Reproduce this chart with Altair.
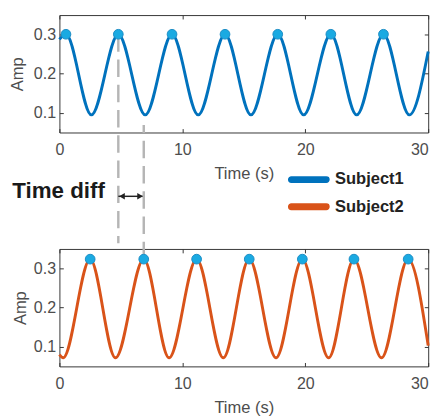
import altair as alt
import pandas as pd

FONT = "Liberation Sans"
subjects = ["Subject1", "Subject2"]
colors = ["#0072BD", "#D95319"]

# Subject1 (top panel): turning points
s1_t = [0.0, 0.53, 2.6, 4.79, 6.98, 9.16, 11.29, 13.47, 15.58, 17.76, 19.87, 22.08, 24.18, 26.36, 28.47, 30.0]
s1_amp = [0.288, 0.301, 0.095, 0.301, 0.095, 0.301, 0.095, 0.301, 0.095, 0.301, 0.095, 0.301, 0.095, 0.301, 0.095, 0.257]
s1_peak_t = [0.53, 4.79, 9.16, 13.47, 17.76, 22.08, 26.36]
s1_peak_amp = [0.301, 0.301, 0.301, 0.301, 0.301, 0.301, 0.301]

# Subject2 (bottom panel)
s2_t = [0.0, 0.3, 2.5, 4.56, 6.86, 8.92, 11.16, 13.33, 15.44, 17.62, 19.76, 21.9, 23.96, 26.2, 28.37, 30.0]
s2_amp = [0.080, 0.072, 0.324, 0.072, 0.324, 0.072, 0.324, 0.072, 0.324, 0.072, 0.324, 0.072, 0.324, 0.072, 0.324, 0.103]
s2_peak_t = [2.5, 6.86, 11.16, 15.44, 19.76, 23.96, 28.37]
s2_peak_amp = [0.324, 0.324, 0.324, 0.324, 0.324, 0.324, 0.324]

# annotation: dashed guides between the second peaks, arrow and label
guide1_end = [-0.233]   # in top-panel units (below the panel)
guide2_end = [0.667]    # in bottom-panel units (above the panel)
arrow_y = [-0.113]
arrow_head_gap = 0.3
label_t = [3.7]
label_y = [-0.099]
label_text = ["Time diff"]

x_ticks = [0, 10, 20, 30]
y_ticks = [0.1, 0.2, 0.3]
x_domain = [0, 30]
y_domain = [0.05, 0.35]
W, H = 380, 121

xs = alt.Scale(domain=x_domain, nice=False, zero=False)
ys = alt.Scale(domain=y_domain, nice=False, zero=False)

color = alt.Color(
    "subject:N",
    scale=alt.Scale(domain=subjects, range=colors),
    legend=alt.Legend(
        title=None, orient="none", legendX=235, legendY=161, padding=0,
        symbolType="M-0.9,-0.0875H0.9A0.0875,0.0875 0 0 1 0.9,0.0875H-0.9A0.0875,0.0875 0 0 1 -0.9,-0.0875Z",
        symbolSize=1600, symbolStrokeWidth=3.5, clipHeight=17, rowPadding=10,
        labelFontSize=17, labelFontWeight="bold", labelFont=FONT, labelColor="#222222",
        labelOffset=5,
    ),
)


def x_axis():
    return alt.Axis(values=x_ticks, format="d", title="Time (s)", domain=False, grid=False, labelFlush=False,
                    labelAlign={"expr": "datum.value >= 30 ? 'right' : 'center'"},
                    offset=-4, tickSize=4, tickColor="#333333", labelPadding=10, titlePadding=8)


def y_axis(title_pad):
    return alt.Axis(values=y_ticks, format=".1f", title="Amp", domain=False, grid=False,
                    offset=-4, tickSize=4, tickColor="#333333", labelPadding=4, titlePadding=title_pad)


def panel(t, amp, subj, peak_t, peak_amp, extra_layers, title_pad):
    df = pd.DataFrame({"t": t, "amp": amp, "subject": subj})
    pk = pd.DataFrame({"t": peak_t, "amp": peak_amp})
    line = alt.Chart(df).mark_line(interpolate="monotone", strokeWidth=3).encode(
        x=alt.X("t:Q", scale=xs, axis=x_axis()),
        y=alt.Y("amp:Q", scale=ys, axis=y_axis(title_pad)),
        color=color,
    )
    opp = alt.Chart(pk).mark_point(opacity=0).encode(
        x=alt.X("t:Q", scale=xs, axis=alt.Axis(orient="top", values=x_ticks, labels=False, domain=False,
                                                grid=False, offset=-4, tickSize=4, tickColor="#333333", title=None)),
        y=alt.Y("amp:Q", scale=ys, axis=alt.Axis(orient="right", values=y_ticks, labels=False, domain=False,
                                                  grid=False, offset=-4, tickSize=4, tickColor="#333333", title=None)),
    )
    dots = alt.Chart(pk).mark_circle(size=100, color="#1aaae2", stroke="#1c8cc4", strokeWidth=1, opacity=1).encode(
        x=alt.X("t:Q", scale=xs, axis=None),
        y=alt.Y("amp:Q", scale=ys, axis=None),
    )
    return alt.layer(line, opp, *extra_layers, dots).resolve_axis(x="independent", y="independent").properties(
        width=W, height=H)


guide_style = dict(color="#b5b5b5", strokeWidth=2.5, strokeDash=[18, 8])

g1 = pd.DataFrame({"t": [s1_peak_t[1]], "a": [s1_peak_amp[1]], "b": guide1_end})
guide1 = alt.Chart(g1).mark_rule(**guide_style).encode(
    x=alt.X("t:Q", scale=xs, axis=None), y=alt.Y("a:Q", scale=ys, axis=None), y2="b:Q")

arr = pd.DataFrame({"t1": [s1_peak_t[1]], "t2": [s2_peak_t[1]], "y": arrow_y})
arrow = alt.Chart(arr).mark_rule(color="#222222", strokeWidth=1.5).encode(
    x=alt.X("t1:Q", scale=xs, axis=None), x2="t2:Q", y=alt.Y("y:Q", scale=ys, axis=None))
heads = pd.DataFrame({"t": [s1_peak_t[1] + arrow_head_gap, s2_peak_t[1] - arrow_head_gap],
                      "y": arrow_y * 2, "shape": ["triangle-left", "triangle-right"]})
arrowheads = alt.Chart(heads).mark_point(filled=True, size=45, color="#222222", opacity=1).encode(
    x=alt.X("t:Q", scale=xs, axis=None), y=alt.Y("y:Q", scale=ys, axis=None),
    shape=alt.Shape("shape:N", scale=None))
lab = pd.DataFrame({"t": label_t, "y": label_y, "txt": label_text})
label = alt.Chart(lab).mark_text(align="right", baseline="middle", fontSize=23, fontWeight="bold",
                                 font=FONT, color="#1a1a1a").encode(
    x=alt.X("t:Q", scale=xs, axis=None), y=alt.Y("y:Q", scale=ys, axis=None), text="txt:N")

g2 = pd.DataFrame({"t": [s2_peak_t[1]], "a": [s2_peak_amp[1]], "b": guide2_end})
guide2 = alt.Chart(g2).mark_rule(**guide_style).encode(
    x=alt.X("t:Q", scale=xs, axis=None), y=alt.Y("a:Q", scale=ys, axis=None), y2="b:Q")

top = panel(s1_t, s1_amp, ["Subject1"] * len(s1_t), s1_peak_t, s1_peak_amp,
            [guide1, arrow, arrowheads, label], 7)
bottom = panel(s2_t, s2_amp, ["Subject2"] * len(s2_t), s2_peak_t, s2_peak_amp, [guide2], 3.5)

chart = alt.vconcat(top, bottom, spacing=120, bounds="flush").properties(
    padding={"left": 0, "top": 0, "right": 0, "bottom": 0}
).configure_view(stroke="#333333", strokeWidth=1).configure_axis(
    labelFont=FONT, titleFont=FONT, labelFontSize=16.5, titleFontSize=17,
    labelColor="#4d4d4d", titleColor="#4d4d4d", titleFontWeight="normal",
)

chart.save("out.html", embed_options={"renderer": "svg", "actions": False})
